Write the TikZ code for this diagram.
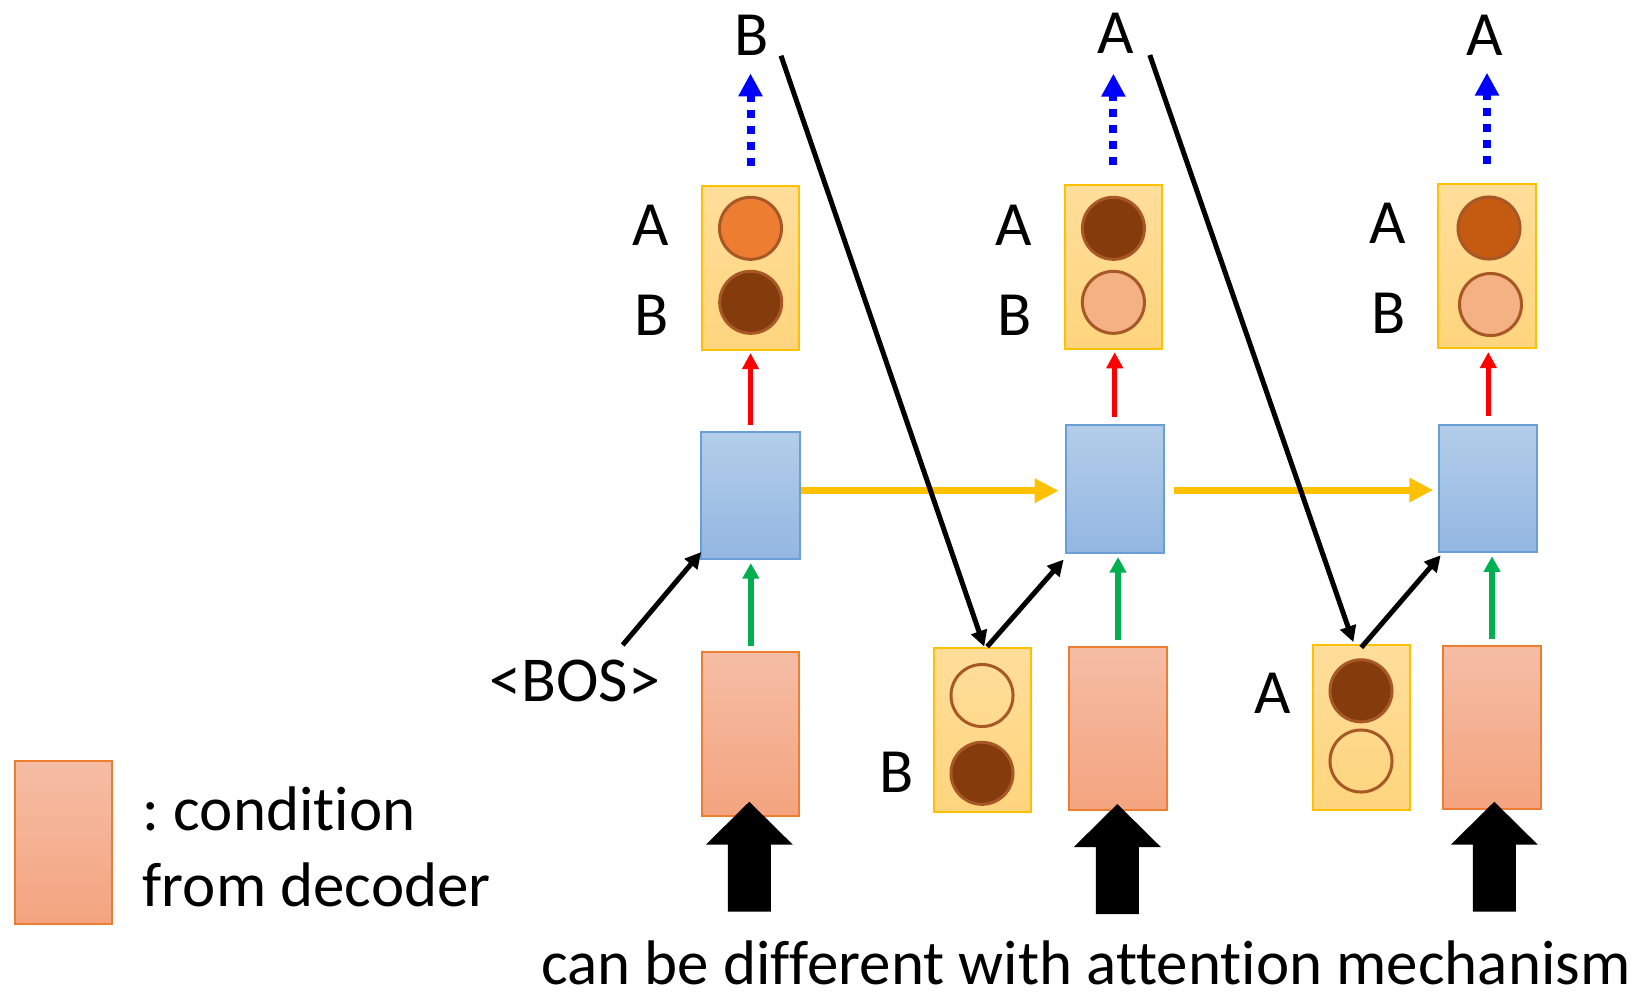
\documentclass[tikz,border=0pt]{standalone}
\usepackage{fontspec}
\setmainfont{Carlito}[Ligatures={NoCommon}]
\frenchspacing
\usetikzlibrary{arrows.meta,calc}

\definecolor{probedge}{RGB}{255,192,0}
\definecolor{probtop}{RGB}{255,222,155}
\definecolor{probbot}{RGB}{254,213,125}
\definecolor{rnnedge}{RGB}{106,159,214}
\definecolor{rnntop}{RGB}{179,205,233}
\definecolor{rnnbot}{RGB}{147,183,226}
\definecolor{condedge}{RGB}{237,125,49}
\definecolor{condtop}{RGB}{245,189,165}
\definecolor{condbot}{RGB}{244,164,127}
\definecolor{unitedge}{RGB}{168,88,38}
\definecolor{orangeA}{RGB}{237,125,49}
\definecolor{burnt}{RGB}{197,90,17}
\definecolor{darkbrown}{RGB}{132,60,12}
\definecolor{lightsalmon}{RGB}{244,177,131}
\definecolor{outblue}{RGB}{0,0,255}
\definecolor{ingreen}{RGB}{0,176,80}
\definecolor{stateyellow}{RGB}{255,192,0}

\tikzset{
  txt/.style={inner sep=0pt, anchor=base, font=\fontsize{17.9}{21.6}\selectfont},
  probbox/.style={rectangle, draw=probedge, line width=0.02cm, top color=probtop,
    bottom color=probbot, minimum width=0.97cm, minimum height=1.64cm, inner sep=0pt},
  rnnbox/.style={rectangle, draw=rnnedge, line width=0.02cm, top color=rnntop,
    bottom color=rnnbot, minimum width=0.98cm, minimum height=1.27cm, inner sep=0pt},
  condbox/.style={rectangle, draw=condedge, line width=0.02cm, top color=condtop,
    bottom color=condbot, minimum width=0.97cm, minimum height=1.63cm, inner sep=0pt},
  unit/.style={circle, draw=unitedge, line width=0.03cm, minimum size=0.62cm, inner sep=0pt},
  outarrow/.style={draw=outblue, line width=0.08cm, dash pattern=on 0.08cm off 0.08cm,
    -{Triangle[width=0.23cm,length=0.23cm]}},
  probarrow/.style={draw=red, line width=0.053cm, -{Triangle[width=0.16cm,length=0.16cm]}},
  inarrow/.style={draw=ingreen, line width=0.055cm, -{Triangle[width=0.16cm,length=0.155cm]}},
  statearrow/.style={draw=stateyellow, line width=0.07cm, -{Triangle[width=0.23cm,length=0.24cm]}},
  feedback/.style={draw=black, line width=0.05cm, -{Triangle[width=0.16cm,length=0.16cm]}},
  feed/.pic={\fill[black] (0,0) -- (43.5,43) -- (21.5,43) -- (21.5,110) -- (-21.5,110)
    -- (-21.5,43) -- (-43.5,43) -- cycle;}
}

\begin{document}
\begin{tikzpicture}[x=0.01cm,y=-0.01cm]
\useasboundingbox (0,0) rectangle (1645,999);

% output distributions
\node[probbox] (top1) at (750.5,268) {};
\node[probbox] (top2) at (1113.4,266.7) {};
\node[probbox] (top3) at (1487,266) {};
% decoder states
\node[rnnbox] (rnn1) at (750.5,495.5) {};
\node[rnnbox] (rnn2) at (1114.7,489) {};
\node[rnnbox] (rnn3) at (1488.3,488.3) {};
% conditions
\node[condbox] (cond1) at (750.8,734) {};
\node[condbox] (cond2) at (1118,728.3) {};
\node[condbox] (cond3) at (1492,727.3) {};
% sampled tokens fed back
\node[probbox] (pick2) at (982.2,729.7) {};
\node[probbox] (pick3) at (1361.3,727.5) {};
% legend
\node[condbox] (key) at (63.5,842.7) {};

% units inside the boxes
\node[unit, fill=orangeA] (t1a) at (750.5,228.3) {};
\node[unit, fill=darkbrown] (t1b) at (750.7,302.3) {};
\node[unit, fill=darkbrown] (t2a) at (1113.4,228.3) {};
\node[unit, fill=lightsalmon] (t2b) at (1113.4,302.3) {};
\node[unit, fill=burnt] (t3a) at (1489,228) {};
\node[unit, fill=lightsalmon] (t3b) at (1490.5,304.5) {};
\node[unit] (p2a) at (982,695.5) {};
\node[unit, fill=darkbrown] (p2b) at (982,773.3) {};
\node[unit, fill=darkbrown] (p3a) at (1361,690.8) {};
\node[unit] (p3b) at (1361,761) {};

% labels
\node[txt] (out1) at (751.7,55.7) {B};
\node[txt] (out2) at (1115.3,53) {A};
\node[txt] (out3) at (1485,55) {A};
\node[txt] (l1a) at (651,245) {A};
\node[txt] (l1b) at (651.7,335.7) {B};
\node[txt] (l2a) at (1014,245) {A};
\node[txt] (l2b) at (1015,335) {B};
\node[txt] (l3a) at (1387.7,243.3) {A};
\node[txt] (l3b) at (1388.3,333) {B};
\node[txt] (lp2) at (896.7,792.7) {B};
\node[txt] (lp3) at (1272.3,713.3) {A};
\node[txt, font=\fontsize{18.2}{21.6}\selectfont] (bos) at (575,701.7) {<BOS>};
\node[txt, anchor=base west] (keytxt1) at (142,830.7) {: condition};
\node[txt, anchor=base west] (keytxt2) at (142,906.7) {from decoder};
\node[txt] (note) at (1086,984)
  {can be different with attention mechanism};

% sampling the output
\draw[outarrow] ($(top1.north)+(0,-19)$) -- ($(top1.north |- out1.south)+(0,17)$);
\draw[outarrow] ($(top2.north)+(0,-19)$) -- ($(top2.north |- out2.south)+(0,20)$);
\draw[outarrow] ($(top3.north)+(0,-19)$) -- ($(top3.north |- out3.south)+(0,17)$);

% state to distribution
\draw[probarrow] ($(rnn1.north)+(0,-6)$) -- ($(rnn1.north |- top1.south)+(0,2)$);
\draw[probarrow] ($(rnn2.north)+(0,-7.5)$) -- ($(rnn2.north |- top2.south)+(0,2.5)$);
\draw[probarrow] ($(rnn3.north)+(0,-7.5)$) -- ($(rnn3.north |- top3.south)+(0,3)$);

% condition to state
\draw[inarrow] ($(cond1.north)+(0,-5.5)$) -- ($(cond1.north |- rnn1.south)+(0,3)$);
\draw[inarrow] ($(cond2.north)+(0,-5.5)$) -- ($(cond2.north |- rnn2.south)+(0,3.5)$);
\draw[inarrow] ($(cond3.north)+(0,-5.5)$) -- ($(cond3.north |- rnn3.south)+(0,3.5)$);

% recurrent state
\draw[statearrow] ($(rnn1.east)+(0,-4.8)$) -- ($(rnn2.west |- rnn1.east)+(-6,-4.8)$);
\draw[statearrow] ($(rnn2.east)+(9,1)$) -- ($(rnn3.west |- rnn2.east)+(-5,1)$);

% fed-back tokens
\coordinate (bostail) at (622.7,645);
\coordinate (from1) at (781,55.7);
\coordinate (from2) at (1149.8,55);
\draw[feedback] (bostail) -- ($(rnn1.south west)+(0.7,-8)$);
\draw[feedback] (from1) -- ($(pick2.north)+(2,0)$);
\draw[feedback] ($(pick2.north)+(5,0)$) -- ($(rnn2.south west)+(-1,6)$);
\draw[feedback] (from2) -- ($(pick3.north)+(-8,-2.4)$);
\draw[feedback] ($(pick3.north)+(0,3)$) -- ($(rnn3.south west)+(2.4,2.4)$);

% decoder inputs
\pic at (749.3,801.7) {feed};
\pic at (1117.3,804) {feed};
\pic at (1494.3,801.7) {feed};
\end{tikzpicture}
\end{document}
